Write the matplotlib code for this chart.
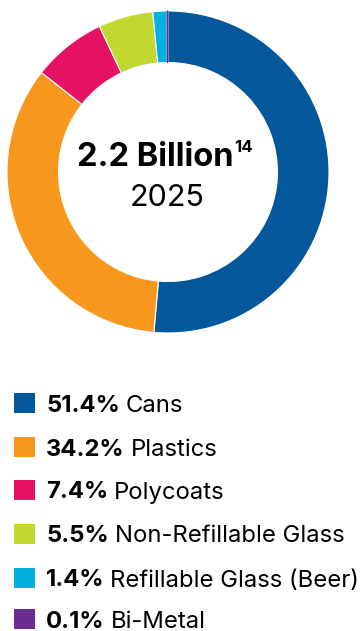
import matplotlib
matplotlib.use("Agg")
import matplotlib.pyplot as plt
from matplotlib.patches import Rectangle

categories = ["Cans", "Plastics", "Polycoats", "Non-Refillable Glass", "Refillable Glass (Beer)", "Bi-Metal"]
values = [51.4, 34.2, 7.4, 5.5, 1.4, 0.1]
pct_labels = ["51.4%", "34.2%", "7.4%", "5.5%", "1.4%", "0.1%"]
colors = ["#02589A", "#F7971E", "#E51165", "#C2D72F", "#00B1DD", "#6A2C90"]
center_title = "2.2 Billion"
center_sup = "14"
center_year = "2025"

W, H = 364, 631
fig = plt.figure(figsize=(W / 100, H / 100), dpi=100)
FONT = ["Inter", "DejaVu Sans"]

cx, cy, R = 168, 172, 161
ax = fig.add_axes([(cx - R) / W, 1 - (cy + R) / H, 2 * R / W, 2 * R / H])
wedges, _ = ax.pie(values, colors=colors, startangle=90, counterclock=False, radius=1,
                   wedgeprops=dict(width=0.32, edgecolor="white", linewidth=0.8))
wedges[-1].set_edgecolor(colors[-1])
wedges[-1].set_linewidth(0.6)
ax.set_xlim(-1, 1)
ax.set_ylim(-1, 1)
ax.set_aspect("equal")
ax.axis("off")

renderer = fig.canvas.get_renderer()

# center text
t1 = fig.text(155 / W, 1 - 157 / H, center_title, ha="center", va="center",
              fontsize=23.5, fontweight="bold", family=FONT, color="black")
bb = t1.get_window_extent(renderer)
fig.text(bb.x1 / W + 0.003, 1 - 147 / H, center_sup, ha="left", va="center",
         fontsize=12, fontweight="bold", family=FONT, color="black")
fig.text(167 / W, 1 - 198 / H, center_year, ha="center", va="center",
         fontsize=22, family=FONT, color="black")

# legend
row_y = [403, 447, 490, 534, 578, 619]
for i, (lab, pct, col) in enumerate(zip(categories, pct_labels, colors)):
    yc = row_y[i]
    fig.patches.append(Rectangle((14 / W, 1 - (yc + 10) / H), 21 / W, 20 / H,
                                 transform=fig.transFigure, facecolor=col, edgecolor="none"))
    tb = fig.text(46 / W, 1 - yc / H, pct, ha="left", va="center_baseline",
                  fontsize=17.2, fontweight="bold", family=FONT, color="black")
    b = tb.get_window_extent(renderer)
    fig.text(b.x1 / W + 6 / W, 1 - yc / H, lab, ha="left", va="center_baseline",
             fontsize=17.2, family=FONT, color="black")

fig.savefig("out.png", dpi=100, facecolor="white")
